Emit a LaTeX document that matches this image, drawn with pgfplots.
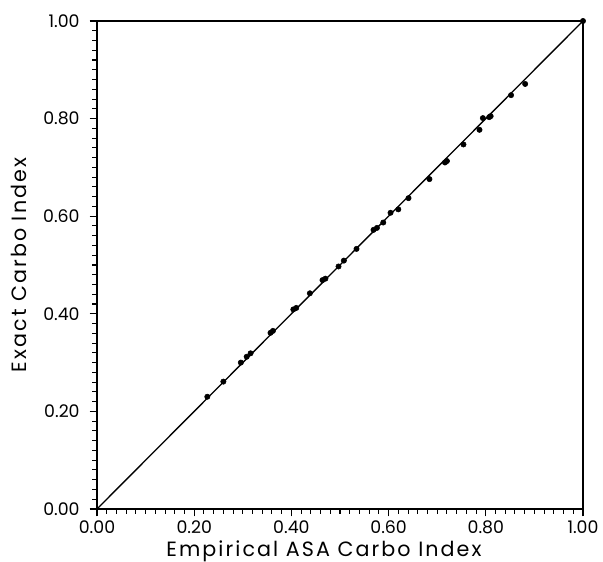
\documentclass[border=0pt]{standalone}
\usepackage{fontspec}
\setmainfont{Poppins}
\newfontfamily\labfont{Poppins}[LetterSpace=10]
\usepackage{pgfplots}
\pgfplotsset{compat=1.18}
\begin{document}
\begin{tikzpicture}
\begin{axis}[
  scale only axis,
  width=364.5pt, height=366pt,
  xmin=0, xmax=1, ymin=0, ymax=1,
  axis line style={line width=1pt},
  xtick={0,0.2,...,1.0}, ytick={0,0.2,...,1.0},
  minor tick num=9,
  tick align=outside,
  xtick pos=bottom, ytick pos=left,
  major tick length=5.5pt, minor tick length=3.5pt,
  every tick/.style={black, line width=0.8pt},
  /pgf/number format/assume math mode=true,
  /pgf/number format/.cd, fixed, fixed zerofill, precision=2,
  /pgfplots/.cd,
  tick label style={font=\fontsize{13}{14}\selectfont},
  xticklabel style={yshift=-2pt, inner ysep=1pt},
  yticklabel style={xshift=-4pt},
  label style={font=\labfont\fontsize{15.5}{17}\selectfont, inner sep=1pt},
  xlabel={Empirical ASA Carbo Index},
  ylabel={Exact Carbo Index},
  xlabel style={at={(axis description cs:0.467,-0.097)}, anchor=base},
  ylabel style={at={(axis description cs:-0.146,0.5)}, anchor=base},
]
\addplot[black, line width=1pt] coordinates {(0,0) (1,1)};
\addplot[only marks, mark=*, mark size=2pt, black] coordinates {
(0.227,0.230) (0.260,0.261) (0.296,0.300) (0.308,0.312) (0.316,0.319)
(0.357,0.361) (0.362,0.365) (0.404,0.409) (0.410,0.412) (0.438,0.442)
(0.464,0.469) (0.470,0.472) (0.497,0.497) (0.508,0.509) (0.534,0.533)
(0.569,0.572) (0.576,0.576) (0.589,0.587) (0.604,0.607) (0.620,0.614)
(0.641,0.637) (0.684,0.676) (0.716,0.710) (0.720,0.713) (0.754,0.747)
(0.787,0.777) (0.794,0.801) (0.807,0.803) (0.810,0.805) (0.852,0.848)
(0.881,0.871) (1.0,1.0)
};
\end{axis}
\pgfresetboundingbox
\path ([xshift=-72.75pt,yshift=-39.75pt]current axis.south west) rectangle ([xshift=15pt,yshift=15.75pt]current axis.north east);
\end{tikzpicture}
\end{document}
